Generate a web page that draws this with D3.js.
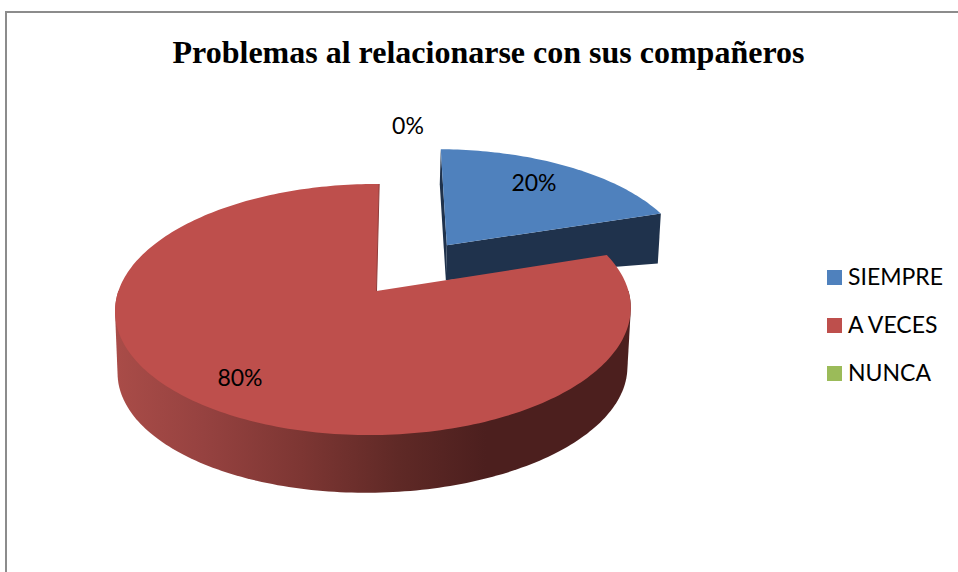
<!DOCTYPE html>
<html><head><meta charset="utf-8">
<script src="https://cdn.jsdelivr.net/npm/d3@7"></script>
<style>html,body{margin:0;padding:0;background:#fff}svg{display:block}</style>
</head><body><svg id="c" width="958" height="572"></svg>
<script>
const chartTitle = "Problemas al relacionarse con sus compañeros";
const categories = ["SIEMPRE", "A VECES", "NUNCA"];
const values = [20, 80, 0];
const colors = ["#4f81bd", "#be4f4c", "#9bbb59"];

const svg = d3.select("#c");
const W = 958, H = 572;
const defs = svg.append("defs");
const grad = defs.append("linearGradient").attr("id","wall").attr("gradientUnits","userSpaceOnUse")
  .attr("x1",116).attr("x2",630).attr("y1",0).attr("y2",0);
[[0,"#a94c48"],[0.17,"#964240"],[0.36,"#7d3633"],[0.55,"#5f2926"],[0.72,"#4c1f1e"],[1,"#4c1f1e"]]
  .forEach(s=>grad.append("stop").attr("offset",s[0]).attr("stop-color",s[1]));

// frame
svg.append("path").attr("d",d3.line()([[W,12],[6,12],[6,H]])).attr("fill","none").attr("stroke","#8c8c8c").attr("stroke-width",2);

// title
svg.append("text").attr("x",488.5).attr("y",63).attr("text-anchor","middle")
  .attr("font-family","'Liberation Serif'").attr("font-weight","bold").attr("font-size",32)
  .attr("fill","#000").text(chartTitle);

// perspective projection of the pie plane
const k = 0.1475, j = 0.012;
const upper = {cx:376.5, cy:291, R:255, Hh:122.8, s:0.025};
const lower = {cx:376.5, cy:352, R:252, Hh:120, s:0.05};
function proj(u,v,p){
  const w = 1 + k*v + j*u, y = -p.Hh*v/w;
  return [p.cx + p.R*u/w - p.s*y, p.cy + y];
}

const pie = d3.pie().sort(null).value(d=>d);
const arcs = pie(values);
const explode = [0.49, 0, 0];

const line = d3.line();
function ring(a0,a1,off,p){
  const n = Math.max(2, Math.ceil((a1-a0)/0.02));
  return d3.range(n+1).map(i=>{ const a=a0+(a1-a0)*i/n;
    return proj(Math.sin(a)+off[0], Math.cos(a)+off[1], p); });
}
function offset(i){ const d=arcs[i], m=(d.startAngle+d.endAngle)/2; return [explode[i]*Math.sin(m), explode[i]*Math.cos(m)]; }

// blue wedge: cut faces then top
{
  const i=0, d=arcs[i], o=offset(i);
  const drop=(u,v)=>{ const t=(u-o[0])/0.951, q=proj(u,v,upper); return [q[0]-1-2*t, q[1]+35+15*t]; };
  const tipU=o[0]+Math.sin(d.endAngle), tipV=o[1]+Math.cos(d.endAngle);
  const backU=o[0]+Math.sin(d.startAngle), backV=o[1]+Math.cos(d.startAngle);
  const side="#1f324c";
  svg.append("path").attr("fill",side).attr("d",line([proj(o[0],o[1],upper),proj(tipU,tipV,upper),drop(tipU,tipV),drop(o[0],o[1])])+"Z");
  svg.append("path").attr("fill",side).attr("d",line([proj(o[0],o[1],upper),proj(backU,backV,upper),drop(backU,backV),drop(o[0],o[1])])+"Z");
  svg.append("path").attr("fill",colors[i]).attr("d",
    line([proj(o[0],o[1],upper),...ring(d.startAngle,d.endAngle,o,upper)])+"Z");
}
// red wedge: outer wall (hull of the near half of both rims) then top
{
  const i=1, d=arcs[i], o=offset(i);
  const t=ring(d.startAngle,d.endAngle,o,upper);
  const nearT=ring(Math.PI/2,Math.PI*1.5,o,upper), nearB=ring(Math.PI/2,Math.PI*1.5,o,lower);
  svg.append("path").attr("fill","url(#wall)").attr("d",line(d3.polygonHull([...nearT,...nearB]))+"Z");
  svg.append("path").attr("fill",colors[i]).attr("d",line([proj(o[0],o[1],upper),...t])+"Z");
  svg.append("path").attr("fill","none").attr("stroke","#8f3b39").attr("stroke-width",1)
    .attr("d",line([proj(o[0],o[1],upper),t[t.length-1]]));
}

// data labels
const pct = d3.format(".0%"), total = d3.sum(values);
const labelPos = [[534,191],[240,386],[408,134]];
svg.append("g").selectAll("text").data(values).join("text")
  .attr("x",(d,i)=>labelPos[i][0]).attr("y",(d,i)=>labelPos[i][1]).attr("text-anchor","middle")
  .attr("font-family","Lato").attr("font-size",23).attr("fill","#000")
  .text(d=>pct(d/total));

// legend
const ly = d3.scalePoint().domain(categories).range([270,366]);
const lg = svg.append("g").selectAll("g").data(categories).join("g")
  .attr("transform",d=>`translate(827,${ly(d)})`);
lg.append("rect").attr("width",15).attr("height",15).attr("fill",(d,i)=>colors[i]);
lg.append("text").attr("x",21).attr("y",15).attr("font-family","Lato").attr("font-size",23)
  .attr("fill","#000").text(d=>d);
</script></body></html>
